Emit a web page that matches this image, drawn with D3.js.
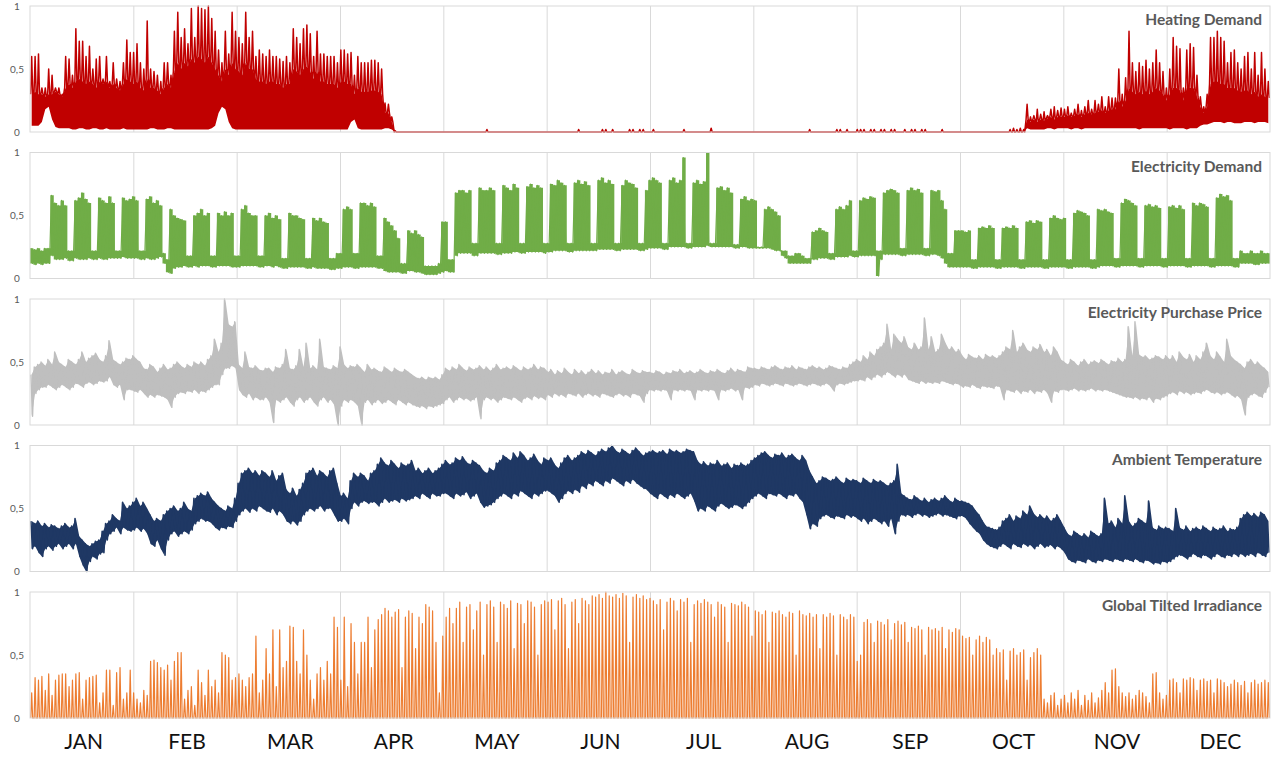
<!DOCTYPE html>
<html>
<head>
<meta charset="utf-8">
<script src="https://cdn.jsdelivr.net/npm/d3@7"></script>
<style>
  body { margin: 0; background: #fff; }
  svg text { font-family: Lato, 'Open Sans', sans-serif; }
</style>
</head>
<body>
<div id="chart"></div>
<script>
// daily values, % of yearly max, one line per month block (JAN..DEC)
const heatHi = [
  60,60,62,35,35,50,45,35,35,30, 60,58,45,82,72,72,60,68,50,58, 60,42,60,40,55,42,40,55,73,63,
  63,70,55,50,88,50,48,45,40,55, 55,45,80,95,75,82,70,98,75,100, 98,97,100,90,80,65,55,80,62,95, 80,
  75,70,95,75,80,60,65,62,60,65, 60,60,58,56,60,55,82,75,70,82, 85,78,60,80,62,62,60,60,60,55,
  65,65,62,63,45,60,55,55,55,57, 57,55,50,23,22,12,1,0,0,0, 0,0,0,0,0,0,0,0,0,0,0,
  0,0,0,0,0,0,0,0,0,0, 0,0,2,0,0,0,0,0,0,0, 0,0,0,0,0,0,0,0,0,0,
  0,0,0,0,0,0,0,0,0,2, 0,0,0,0,0,0,2,2,0,2, 0,0,0,0,2,2,0,2,2,0,
  0,2,0,0,0,0,0,0,0,0, 2,0,0,0,0,0,0,0,3,0, 0,0,0,0,0,0,0,0,0,0,0,
  0,0,0,0,0,0,0,0,0,0, 0,0,0,0,0,0,2,0,0,0, 0,0,0,0,2,2,0,2,0,0,
  2,2,2,0,2,2,0,2,2,0, 2,2,0,0,2,0,2,2,0,2, 2,0,0,0,0,2,0,0,0,0,0,
  0,0,0,0,0,0,0,0,0,0, 0,0,0,0,2,3,2,3,2,22, 12,13,18,14,16,13,18,20,17,19,
  18,20,15,18,22,17,20,25,18,25, 22,28,20,28,27,27,50,30,43,80, 55,48,55,52,57,50,55,65,55,48, 35,
  50,75,68,66,35,65,70,67,45,28, 20,30,75,75,80,75,72,55,63,65, 55,50,60,63,50,63,45,63,50,40
];
const heatBase = [
  30,32,30,30,28,30,30,32,30,28, 35,38,35,40,42,40,38,40,38,35, 40,38,40,35,38,35,33,38,42,40,
  38,40,35,33,42,35,35,33,30,35, 38,35,48,55,50,55,52,58,55,60, 58,55,60,55,50,45,40,50,45,55, 50,
  48,45,55,50,50,42,40,40,38,40, 40,38,38,35,38,38,50,48,45,50, 52,48,42,48,40,40,38,38,38,35,
  40,40,38,38,30,35,32,32,32,33, 33,32,30,15,15,8,0,0,0,0, 0,0,0,0,0,0,0,0,0,0,0,
  0,0,0,0,0,0,0,0,0,0, 0,0,0,0,0,0,0,0,0,0, 0,0,0,0,0,0,0,0,0,0,
  0,0,0,0,0,0,0,0,0,0, 0,0,0,0,0,0,0,0,0,0, 0,0,0,0,0,0,0,0,0,0,
  0,0,0,0,0,0,0,0,0,0, 0,0,0,0,0,0,0,0,0,0, 0,0,0,0,0,0,0,0,0,0,0,
  0,0,0,0,0,0,0,0,0,0, 0,0,0,0,0,0,0,0,0,0, 0,0,0,0,0,0,0,0,0,0,
  0,0,0,0,0,0,0,0,0,0, 0,0,0,0,0,0,0,0,0,0, 0,0,0,0,0,0,0,0,0,0,0,
  0,0,0,0,0,0,0,0,0,0, 0,0,0,0,0,0,0,0,0,10, 8,10,8,10,9,11,12,10,12,12,
  12,13,12,13,14,12,14,15,14,15, 16,17,15,17,18,18,25,20,25,35, 32,30,32,30,33,30,32,35,33,30, 25,
  30,35,35,33,25,35,35,35,28,20, 15,20,38,40,40,38,38,35,35,35, 33,32,33,33,30,32,28,30,28,27
];
const heatLo = [
  5,5,5,8,18,20,10,4,3,3, 3,3,2,2,3,3,2,2,3,3, 2,2,3,2,2,2,2,3,2,2,
  2,2,2,2,2,3,3,2,2,2, 3,3,2,2,2,2,2,2,2,2, 2,2,2,3,5,15,20,18,8,3, 2,
  2,2,2,2,2,2,2,2,2,2, 2,2,2,2,2,2,2,2,2,2, 2,2,2,2,2,2,2,2,2,2,
  2,2,2,8,10,3,2,2,2,2, 2,2,2,3,3,2,0,0,0,0, 0,0,0,0,0,0,0,0,0,0,0,
  0,0,0,0,0,0,0,0,0,0, 0,0,0,0,0,0,0,0,0,0, 0,0,0,0,0,0,0,0,0,0,
  0,0,0,0,0,0,0,0,0,0, 0,0,0,0,0,0,0,0,0,0, 0,0,0,0,0,0,0,0,0,0,
  0,0,0,0,0,0,0,0,0,0, 0,0,0,0,0,0,0,0,0,0, 0,0,0,0,0,0,0,0,0,0,0,
  0,0,0,0,0,0,0,0,0,0, 0,0,0,0,0,0,0,0,0,0, 0,0,0,0,0,0,0,0,0,0,
  0,0,0,0,0,0,0,0,0,0, 0,0,0,0,0,0,0,0,0,0, 0,0,0,0,0,0,0,0,0,0,0,
  0,0,0,0,0,0,0,0,0,0, 0,0,0,0,0,0,0,0,0,3, 2,2,2,2,2,3,3,2,3,3,
  3,3,2,3,3,2,3,3,3,3, 3,3,3,3,3,3,3,3,3,3, 3,3,2,3,3,3,3,3,3,3, 3,
  2,3,3,3,3,2,3,3,3,5, 6,6,7,8,8,8,7,8,8,7, 7,7,8,8,8,7,8,8,8,7
];

const elecHi = [
  24,23,24,22,24,24,66,60,58,62, 58,22,22,62,64,68,63,60,22,22, 64,62,60,65,60,22,22,64,62,63,
  65,62,22,22,63,65,60,62,58,20, 15,55,50,48,47,46,18,18,50,52, 55,50,52,18,18,52,50,53,50,52, 18,
  18,55,58,52,50,50,18,18,50,52, 48,50,47,16,16,52,50,50,48,47, 16,16,48,46,48,45,44,16,16,20,
  20,55,57,55,20,20,60,60,58,60, 57,18,18,48,45,42,38,32,12,12, 38,36,38,35,33,10,10,10,10,12,45,
  45,15,15,68,70,70,68,70,28,28, 72,70,70,72,70,28,28,74,72,70, 75,72,28,28,73,75,72,74,72,28,
  28,75,74,78,76,74,28,28,76,78, 75,77,74,28,28,78,80,76,78,75, 28,28,74,78,76,75,72,28,28,70,
  78,80,78,76,28,28,78,80,76,78, 96,28,28,76,78,75,77,100,28,28, 72,73,70,72,68,27,27,63,65,62,63,
  62,25,25,55,57,55,53,50,22,22, 18,18,20,20,18,16,16,37,38,40, 38,37,20,20,55,57,55,58,62,22,
  22,62,64,63,65,64,22,22,68,70, 71,70,68,24,24,70,72,70,71,68, 24,24,70,69,70,62,55,20,20,38,38,
  38,37,38,15,15,40,41,40,42,40, 15,15,40,41,40,42,40,15,15,45, 46,44,46,45,15,15,48,50,48,47,
  48,15,15,52,54,53,52,50,15,15, 55,54,55,53,52,16,16,60,63,62, 60,58,16,16,58,59,57,58,56,16,16,
  57,58,56,58,55,16,16,60,58,60, 59,57,16,16,64,67,65,66,62,16, 16,22,20,20,22,20,20,22,20,20
];
const elecLo = [
  12,11,12,11,12,12,18,15,15,15, 16,14,14,16,15,15,15,16,15,15, 16,15,15,16,16,16,16,17,16,16,
  16,16,15,15,16,15,15,16,17,12, 5,4,8,9,9,10,9,9,10,9, 10,10,10,9,9,10,10,10,10,9, 9,
  9,10,10,10,10,10,9,9,10,10, 9,10,9,8,8,9,9,9,9,9, 8,8,9,8,8,8,8,7,7,8,
  8,9,9,9,8,8,9,9,9,9, 9,8,8,6,5,5,5,5,4,4, 6,6,5,5,4,3,3,3,3,4,5,
  6,5,5,18,20,20,20,20,18,18, 20,20,20,20,20,19,19,20,20,20, 21,21,20,20,21,21,21,21,21,20,
  21,21,22,22,22,22,21,21,22,22, 22,22,22,22,22,23,23,23,23,23, 22,22,23,23,23,23,23,22,22,23,
  24,24,24,24,23,23,25,25,25,25, 25,24,24,25,25,25,25,26,25,25, 25,25,25,25,25,24,24,25,25,24,24,
  24,24,24,24,24,23,22,22,18,16, 12,12,12,12,12,12,12,15,15,16, 16,16,15,15,17,17,17,17,18,17,
  17,18,18,18,18,18,2,15,19,19, 19,19,19,18,18,19,19,19,19,19, 18,18,19,19,18,16,12,9,9,9,9,
  9,9,9,8,8,9,9,9,9,9, 8,8,9,9,9,9,9,8,8,9, 9,9,9,9,8,8,9,9,9,9,
  9,8,8,9,9,9,9,9,8,8, 9,10,10,10,10,9,9,10,10,10, 10,10,9,9,10,10,10,10,10,9,9,
  10,10,10,10,10,9,9,10,10,10, 10,10,9,9,10,10,10,10,10,9, 9,12,12,12,12,11,11,12,12,12
];

const priceHi = [
  40,46,48,50,47,52,48,58,50,48, 46,52,50,48,52,58,50,53,55,57, 52,50,55,67,52,50,48,50,53,52,
  55,52,50,45,44,48,46,42,45,48, 44,45,48,50,47,45,48,46,50,48, 50,47,52,55,68,58,65,100,80,78, 82,
  48,45,58,46,45,47,44,43,45,45, 42,46,45,48,60,45,44,47,60,46, 65,45,47,44,68,46,45,44,47,45,
  62,48,45,47,46,48,45,42,48,44, 45,43,42,46,44,42,45,43,42,44, 42,40,38,37,38,36,38,37,38,36, 40,
  45,43,46,44,48,45,43,46,44,45, 47,44,46,43,45,48,44,45,46,44, 47,45,43,46,44,45,48,44,46,45,
  42,44,40,43,41,45,42,40,44,41, 43,40,42,44,41,43,40,42,41,44, 40,42,43,41,40,44,42,41,43,42,
  42,41,43,42,40,42,41,43,42,44, 41,42,43,41,42,44,42,41,43,42, 44,42,41,43,45,42,44,43,42,46, 45,
  45,44,46,45,44,46,47,45,44,46, 45,47,44,46,45,44,46,47,45,46, 44,45,47,46,45,44,46,45,48,50,
  52,50,55,52,58,55,60,62,65,80, 60,72,68,65,70,62,60,65,60,62, 85,60,70,58,60,72,65,60,62,58, 60,
  55,52,56,54,53,55,52,56,54,55, 53,55,58,62,60,75,58,62,65,60, 58,62,60,64,58,60,55,62,58,52,
  50,48,52,50,47,50,52,48,50,51, 49,52,50,48,51,50,53,50,52,78, 55,82,56,54,55,52,53,55,54,52, 55,
  52,55,50,58,54,52,56,50,55,52, 58,65,55,52,58,54,50,68,55,52, 50,48,45,50,52,48,50,47,45,42
];
const priceLo = [
  7,25,28,30,30,32,30,28,30,32, 30,28,30,33,32,30,33,34,32,33, 35,34,35,38,32,30,32,20,28,28,
  27,26,28,25,22,24,22,24,23,22, 20,14,22,25,26,25,27,26,28,25, 27,26,28,30,32,32,40,45,45,47, 45,
  28,24,22,25,20,22,20,20,22,18, 2,20,18,20,22,18,15,20,22,18, 20,22,18,15,20,22,18,20,16,0,
  15,20,18,20,18,15,0,18,20,16, 18,20,17,18,20,18,16,20,18,16, 18,16,15,14,15,13,15,14,15,16, 17,
  20,22,18,20,22,20,21,19,20,22, 5,20,22,20,21,18,20,22,21,20, 22,20,18,21,22,20,23,21,22,20,
  24,22,25,23,24,22,25,24,23,25, 22,24,25,23,24,22,25,24,23,22, 24,25,23,24,22,25,24,23,18,25,
  28,27,28,27,28,27,20,28,27,28, 27,28,27,20,28,27,28,27,28,27, 20,28,27,28,29,27,28,20,30,29, 30,
  32,31,33,32,31,32,33,32,31,33, 32,31,32,33,32,31,32,33,32,31, 32,33,31,27,32,33,32,33,34,35,
  35,36,35,38,36,38,40,38,40,42, 40,38,40,38,40,36,35,34,33,35, 33,34,33,34,33,35,34,33,32,33, 32,
  30,31,30,32,30,29,31,30,30,29, 31,30,20,28,27,26,28,25,27,26, 28,25,27,26,28,25,18,27,26,28,
  28,27,28,29,27,28,27,28,29,27, 28,27,28,27,26,25,24,23,22,22, 21,22,20,21,20,22,18,21,20,22, 23,
  25,26,24,27,25,26,24,25,26,25, 27,28,26,25,26,24,25,26,24,22, 23,20,8,22,24,25,23,22,26,30
];

const tempHi = [
  40,38,40,36,38,35,37,36,34,36, 38,35,36,42,28,25,22,20,22,24, 25,32,38,40,45,42,40,55,50,52,
  55,58,52,55,50,45,40,42,40,45, 48,50,52,48,50,55,50,48,58,60, 62,60,63,58,55,52,50,48,52,50, 58,
  70,78,80,82,78,80,76,80,78,75, 80,72,76,78,65,62,66,60,65,70, 78,80,82,76,80,78,75,80,82,70,
  60,62,58,72,78,75,78,76,72,78, 80,85,90,86,84,88,85,82,86,84, 85,88,80,82,78,80,82,78,80,82, 85,
  88,85,86,90,88,91,87,85,88,86, 84,80,78,82,80,86,88,92,90,88, 94,90,95,92,88,90,93,88,85,90,
  88,90,85,82,86,90,92,88,90,92, 95,93,96,94,92,95,97,95,98,100, 96,94,97,95,93,96,98,95,92,94,
  95,96,94,95,96,93,97,95,96,94, 95,97,96,95,88,85,87,84,86,85, 88,84,85,86,82,85,84,86,84,85, 88,
  90,92,94,95,92,90,93,92,94,90, 92,93,90,88,92,88,80,75,70,72, 75,74,72,73,75,72,70,74,72,73,
  72,70,74,72,70,73,71,72,70,68, 70,72,85,62,60,58,57,60,58,56, 58,55,57,58,56,58,60,57,55,58, 56,
  56,55,54,52,48,45,40,36,35,34, 33,35,40,42,45,40,44,42,48,45, 52,46,43,45,42,44,40,42,45,40,
  35,30,28,32,30,28,30,27,32,30, 28,30,58,38,40,35,42,38,60,40, 36,38,42,40,38,56,35,33,36,34, 35,
  34,32,50,35,33,36,32,34,35,33, 36,34,32,35,33,34,36,32,34,33, 35,42,45,47,44,46,43,47,45,40
];
const tempLo = [
  18,20,15,12,18,20,17,20,22,18, 20,22,18,22,12,5,0,8,12,10, 14,15,25,30,32,35,30,35,33,32,
  33,35,32,34,30,22,20,25,18,13, 25,30,32,28,30,32,30,33,38,40, 42,40,40,38,35,33,35,34,36,35, 40,
  45,48,50,47,50,48,52,50,48,47, 50,45,48,45,40,38,40,37,40,45, 48,50,48,50,52,48,50,50,45,40,
  40,42,38,50,55,52,55,56,54,55, 55,52,55,58,55,56,57,55,58,56, 57,58,60,58,62,60,58,62,60,60, 62,
  62,60,58,62,60,61,63,58,60,62, 55,51,52,53,55,58,60,62,60,58, 62,60,64,62,60,58,62,60,62,64,
  64,62,60,55,58,62,64,62,65,63, 68,66,70,68,72,70,68,72,70,74, 72,70,68,72,70,73,70,68,66,65,
  62,60,58,62,60,58,61,59,62,60, 58,60,62,56,48,50,48,52,50,48, 52,54,52,50,51,53,52,50,52,55, 58,
  60,62,60,58,62,61,60,62,60,58, 61,60,62,58,55,45,34,38,36,42, 44,45,43,42,44,43,42,45,43,44,
  42,40,42,38,40,42,40,38,40,36, 42,30,40,45,44,45,43,45,46,44, 45,43,44,45,46,44,45,44,43,42, 44,
  44,42,38,35,32,30,25,22,20,19, 18,20,22,20,18,22,20,19,22,20, 21,18,20,22,19,20,21,18,20,18,
  15,10,8,7,9,8,7,10,8,7, 9,8,10,9,8,10,9,8,10,9, 8,10,8,7,9,8,6,7,6,8, 7,
  8,10,12,13,12,10,12,14,12,11, 13,12,10,12,14,12,11,13,12,14, 12,14,12,13,14,12,15,13,12,15
];

const solarPeak = [
  20,32,30,33,22,35,18,30,34,35, 35,25,30,35,36,15,30,32,33,34, 12,20,38,38,10,36,40,15,20,38,
  20,15,12,22,18,45,46,44,40,38, 42,30,45,52,52,15,22,25,10,38, 28,18,38,25,30,20,52,50,48,30, 32,
  35,30,25,32,35,65,20,30,55,35, 70,25,70,40,45,73,72,45,35,70, 50,30,15,35,40,30,45,35,80,72,
  30,80,25,75,60,35,60,60,80,40, 70,78,82,87,85,80,84,86,40,80, 85,83,55,80,75,90,88,85,60,20, 65,
  80,87,75,87,92,60,88,90,70,85, 92,50,90,93,88,60,92,90,87,93, 55,91,90,75,93,92,88,50,90,93,
  92,94,70,93,95,90,55,92,94,75, 95,93,90,97,96,98,95,100,97,96, 98,95,99,97,60,96,98,95,97,94,
  95,93,90,94,70,92,95,93,85,94, 92,95,60,90,93,91,94,92,90,80, 92,90,88,60,91,90,89,92,90,88, 65,
  85,84,82,85,60,84,83,85,82,80, 84,83,50,85,82,81,83,80,82,55, 82,80,83,81,50,82,80,78,82,80,
  45,50,76,78,75,60,77,76,74,78, 62,75,77,74,76,60,72,71,73,70, 50,72,70,71,69,72,55,70,68,71, 70,
  65,63,64,50,62,65,60,64,62,50, 55,52,54,30,53,55,50,52,54,30, 48,52,55,50,15,12,18,20,10,15,
  18,12,20,15,22,10,18,14,20,12, 16,22,28,20,38,39,25,20,17,20, 15,18,22,20,17,12,35,36,20,15, 18,
  30,31,28,20,31,30,32,31,22,30, 31,29,30,20,31,30,28,25,27,30, 28,26,29,20,28,30,27,28,30,28
];

const months = ['JAN','FEB','MAR','APR','MAY','JUN','JUL','AUG','SEP','OCT','NOV','DEC'];
const titles = ['Heating Demand','Electricity Demand','Electricity Purchase Price','Ambient Temperature','Global Tilted Irradiance'];
const yTicks = [0, 0.5, 1];

const width = 1285, height = 758;
const left = 30, right = 1270;
const firstTop = 6, panelStep = 146.5, panelH = 126;

const svg = d3.select('#chart').append('svg')
  .attr('width', width)
  .attr('height', height);

const monthScale = d3.scaleLinear().domain([0, 12]).range([left, right]);
const yScale = d3.scaleLinear().domain([0, 1]).range([panelH, 0]);
const pct = v => yScale(v / 100);

// band between two daily series, stepped or straight between days
function band(g, lo, hi, color, curve) {
  const n = hi.length;
  const x = d3.scaleLinear().domain([0, n]).range([left, right]);
  const stepped = curve === d3.curveStepAfter;
  const idx = stepped ? d3.range(n + 1) : d3.range(n);
  const area = d3.area()
    .x(i => x(stepped ? i : i + 0.5))
    .y0(i => pct(lo[Math.min(i, n - 1)]))
    .y1(i => pct(hi[Math.min(i, n - 1)]))
    .curve(curve);
  g.append('path')
    .attr('d', area(idx))
    .style('fill', color);
}

// jagged line that swings from one daily series to another inside each day
function swing(g, a, b, offsets, color, w) {
  const n = a.length;
  const x = d3.scaleLinear().domain([0, n]).range([left, right]);
  const pts = [];
  for (let i = 0; i < n; i++) {
    offsets.forEach(([dx, which]) => pts.push([x(i + dx), pct(which === 0 ? a[i] : b[i])]));
  }
  g.append('path')
    .attr('d', d3.line()(pts))
    .style('fill', 'none')
    .style('stroke', color)
    .style('stroke-width', w)
    .style('stroke-linejoin', 'round');
}

const zero = solarPeak.map(() => 0);

const drawers = [
  g => {
    band(g, heatLo, heatBase, '#c00000', d3.curveLinear);
    swing(g, heatBase, heatHi, [[0.2, 0], [0.5, 1], [0.8, 0]], '#c00000', 1.5);
  },
  g => {
    band(g, elecLo, elecHi, '#70ad47', d3.curveStepAfter);
    swing(g, elecHi, elecLo, [[0.3, 0], [0.75, 1]], '#70ad47', 1.2);
  },
  g => {
    band(g, priceLo, priceHi, '#bfbfbf', d3.curveLinear);
    swing(g, priceHi, priceLo, [[0.25, 0], [0.75, 1]], '#bfbfbf', 1.4);
  },
  g => {
    band(g, tempLo, tempHi, '#1f3864', d3.curveLinear);
    swing(g, tempHi, tempLo, [[0.25, 0], [0.75, 1]], '#1f3864', 1.6);
  },
  g => {
    swing(g, zero, solarPeak, [[0.22, 0], [0.5, 1], [0.78, 0]], '#ed7d31', 1.2);
  }
];

titles.forEach((title, p) => {
  const g = svg.append('g')
    .attr('transform', 'translate(0,' + (firstTop + p * panelStep) + ')');

  // month gridlines
  g.append('g')
    .attr('class', 'grid')
    .attr('transform', 'translate(0,' + panelH + ')')
    .call(d3.axisBottom(monthScale)
      .tickValues(d3.range(1, 12))
      .tickSize(-panelH)
      .tickFormat(() => ''))
    .call(a => a.select('.domain').remove())
    .selectAll('line')
    .style('stroke', '#d9d9d9');

  drawers[p](g);

  g.append('rect')
    .attr('x', left)
    .attr('y', 0)
    .attr('width', right - left)
    .attr('height', panelH)
    .style('fill', 'none')
    .style('stroke', '#d9d9d9');

  g.selectAll('text.ytick')
    .data(yTicks)
    .enter().append('text')
    .attr('class', 'ytick')
    .attr('x', 17)
    .attr('y', d => yScale(d) + 3.5)
    .attr('text-anchor', 'middle')
    .style('font-size', '10px')
    .style('fill', '#595959')
    .text(d => d === 0.5 ? '0,5' : d);

  g.append('text')
    .attr('x', 1262)
    .attr('y', 19)
    .attr('text-anchor', 'end')
    .style('font-size', '15.5px')
    .style('font-weight', 'bold')
    .style('fill', '#595959')
    .text(title);
});

svg.selectAll('text.month')
  .data(months)
  .enter().append('text')
  .attr('class', 'month')
  .attr('x', (d, i) => monthScale(i + 0.5) + 2)
  .attr('y', 749)
  .attr('text-anchor', 'middle')
  .style('font-size', '21px')
  .style('fill', '#111')
  .text(d => d);
</script>
</body>
</html>
